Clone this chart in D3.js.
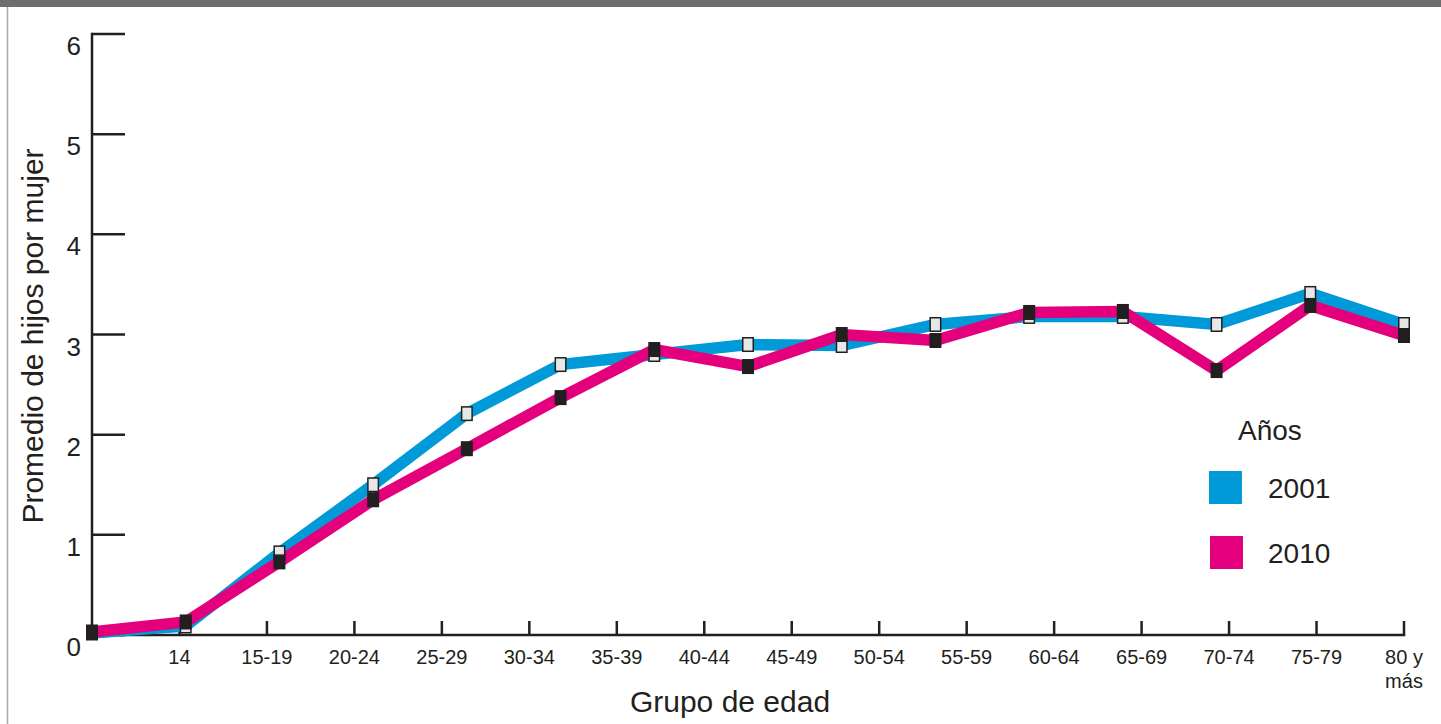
<!DOCTYPE html>
<html><head><meta charset="utf-8">
<script src="https://cdn.jsdelivr.net/npm/d3@7"></script>
<style>body{margin:0;background:#fff;}svg{display:block;font-family:"Liberation Sans",Arial,sans-serif;}</style>
</head><body>
<svg id="c" width="1441" height="724"></svg>
<script>
const categories = ["14","15-19","20-24","25-29","30-34","35-39","40-44","45-49","50-54","55-59","60-64","65-69","70-74","75-79","80 y más"];
const tickLabels = ["","14","15-19","20-24","25-29","30-34","35-39","40-44","45-49","50-54","55-59","60-64","65-69","70-74","75-79","80 y más"];
const values2001 = [0.02,0.09,0.82,1.50,2.21,2.70,2.80,2.90,2.89,3.10,3.18,3.18,3.10,3.41,3.10];
const values2010 = [0.03,0.13,0.73,1.35,1.86,2.37,2.85,2.68,3.00,2.94,3.22,3.23,2.64,3.29,2.99];
const yTicks = [0,1,2,3,4,5,6];
const seriesNames = ["2001","2010"];

const svg = d3.select("#c");
const ink = "#231f20";
const colors = {"2001":"#009ad8","2010":"#e4007c"};
const x0 = 92, x1 = 1404, yBottom = 635, yTop = 34;

// frame
svg.append("rect").attr("x",0).attr("y",0).attr("width",1441).attr("height",7).attr("fill","#6d6e70");
svg.append("line").attr("x1",7.5).attr("x2",7.5).attr("y1",7).attr("y2",724).attr("stroke","#a7a9ac").attr("stroke-width",1.5);

const x = d3.scalePoint().domain(categories).range([x0,x1]);
const xAxisScale = d3.scalePoint().domain(tickLabels).range([x0,x1]);
const y = d3.scaleLinear().domain([0,6]).range([yBottom,yTop]);

// y axis
const gy = svg.append("g");
gy.append("line").attr("x1",x0).attr("x2",x0).attr("y1",yTop-1.2).attr("y2",yBottom).attr("stroke",ink).attr("stroke-width",2.5);
gy.selectAll("line.t").data(yTicks).join("line").attr("class","t")
  .attr("x1",x0).attr("x2",x0+33).attr("y1",d=>y(d)).attr("y2",d=>y(d)).attr("stroke",ink).attr("stroke-width",2.5);
gy.selectAll("text").data(yTicks).join("text")
  .attr("x",x0-11).attr("y",d=>y(d)+21).attr("text-anchor","end").attr("font-size",26).attr("fill",ink).text(d=>d);

// x axis
const gx = svg.append("g");
gx.append("line").attr("x1",x0).attr("x2",x1+1.2).attr("y1",yBottom).attr("y2",yBottom).attr("stroke",ink).attr("stroke-width",2.5);
gx.selectAll("line.t").data(tickLabels.slice(1)).join("line").attr("class","t")
  .attr("x1",d=>xAxisScale(d)).attr("x2",d=>xAxisScale(d)).attr("y1",yBottom).attr("y2",yBottom-14).attr("stroke",ink).attr("stroke-width",2.5);
const xl = gx.selectAll("text").data(tickLabels.slice(1)).join("text")
  .attr("x",d=>xAxisScale(d)).attr("y",664).attr("text-anchor","middle").attr("font-size",20).attr("fill",ink);
xl.each(function(d){
  const parts = d === "80 y más" ? ["80 y","más"] : [d];
  d3.select(this).selectAll("tspan").data(parts).join("tspan")
    .attr("x",xAxisScale(d)).attr("dy",(p,i)=>i===0?0:24).text(p=>p);
});

// axis titles
svg.append("text").attr("x",730).attr("y",712).attr("text-anchor","middle").attr("font-size",30).attr("fill",ink).text("Grupo de edad");
svg.append("text").attr("transform","translate(43,336) rotate(-90)").attr("text-anchor","middle").attr("font-size",30).attr("fill",ink).text("Promedio de hijos por mujer");

// lines
const line = d3.line().x((d,i)=>x(categories[i])).y(d=>y(d));
const data = {"2001":values2001,"2010":values2010};
seriesNames.forEach(s=>{
  svg.append("path").attr("d",line(data[s])).attr("fill","none").attr("stroke",colors[s]).attr("stroke-width",11.5).attr("stroke-linejoin","miter");
});
// markers
const mw = 10.5, mh = 13.5;
svg.append("g").selectAll("rect").data(values2001).join("rect")
  .attr("x",(d,i)=>x(categories[i])-mw/2).attr("y",d=>y(d)-mh/2).attr("width",mw).attr("height",mh)
  .attr("fill","#e6e7e8").attr("stroke",ink).attr("stroke-width",1.5);
svg.append("g").selectAll("rect").data(values2010).join("rect")
  .attr("x",(d,i)=>x(categories[i])-mw/2).attr("y",d=>y(d)-mh/2).attr("width",mw).attr("height",mh)
  .attr("fill",ink).attr("stroke",ink).attr("stroke-width",1.5);

// legend
const lg = svg.append("g");
lg.append("text").attr("x",1238).attr("y",440).attr("font-size",28).attr("fill",ink).text("Años");
seriesNames.forEach((s,i)=>{
  const yy = 471 + i*65;
  lg.append("rect").attr("x",1209+i).attr("y",yy).attr("width",33).attr("height",33).attr("fill",colors[s]);
  lg.append("text").attr("x",1268).attr("y",yy+27).attr("font-size",28).attr("fill",ink).text(s);
});
</script>
</body></html>
